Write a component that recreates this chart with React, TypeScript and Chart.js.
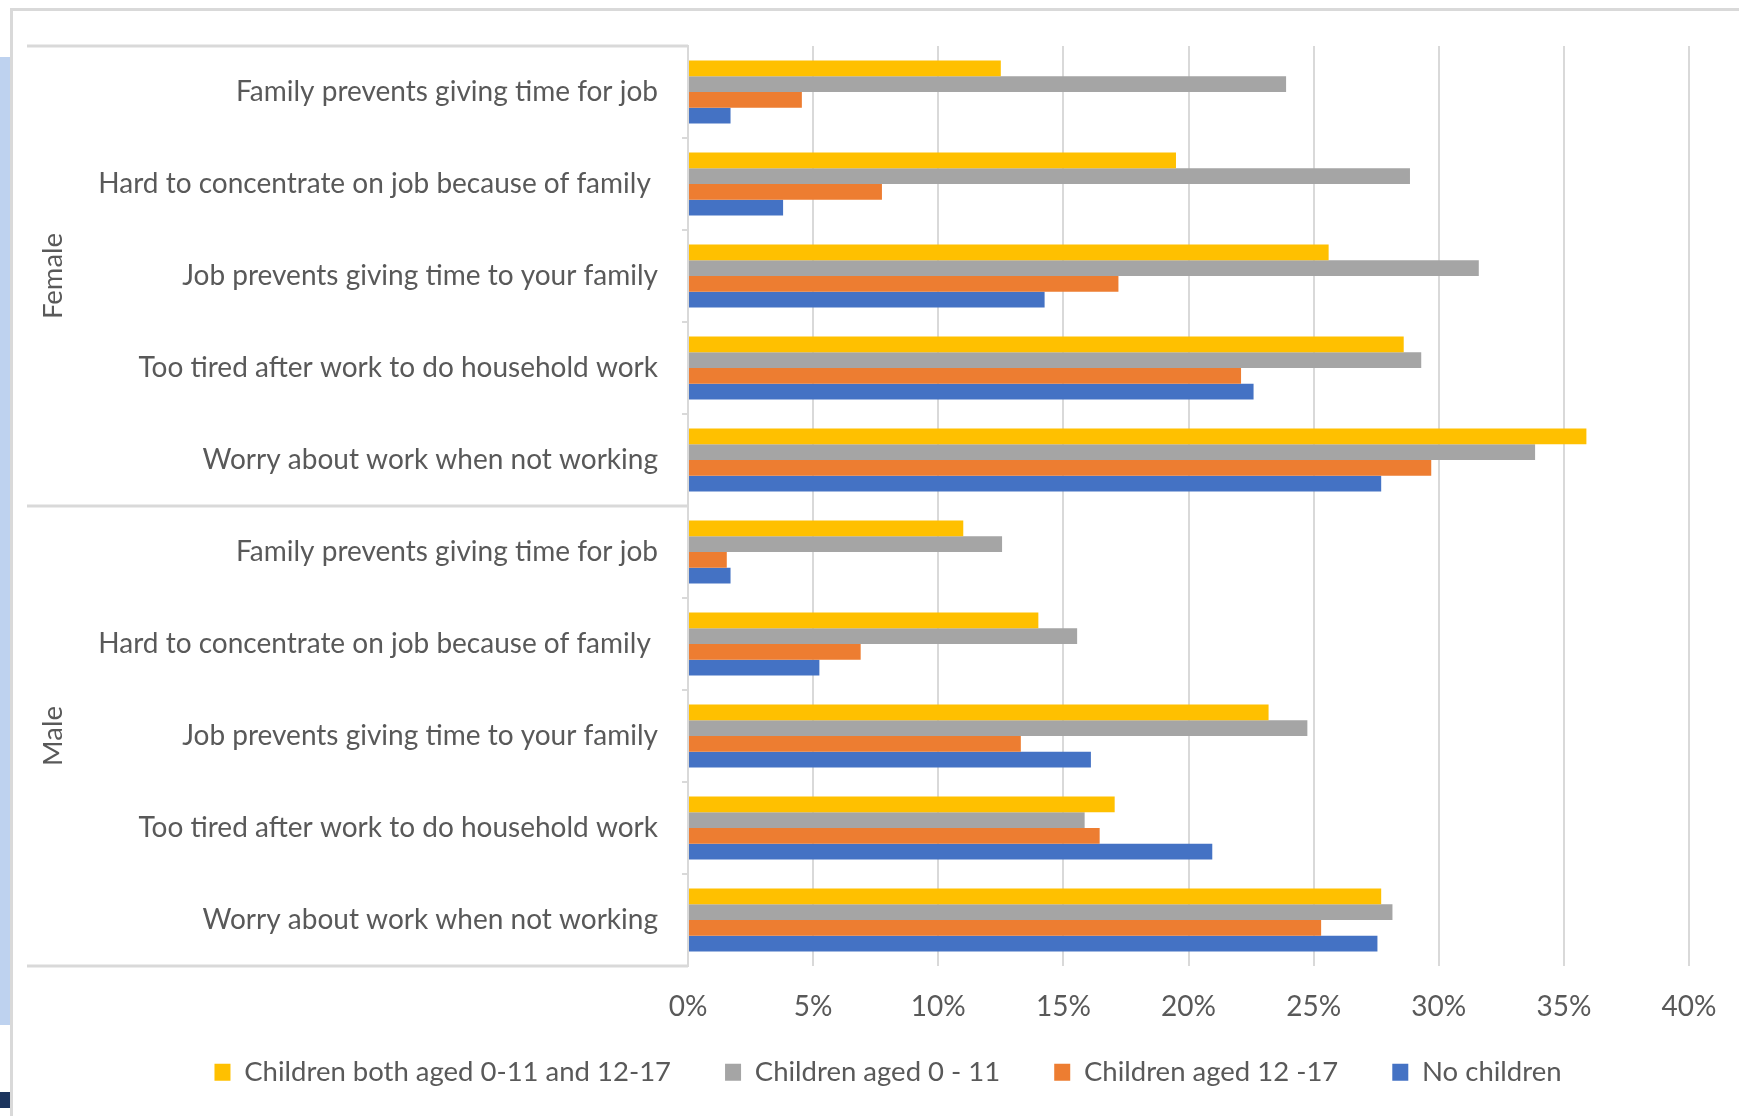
import { useEffect, useRef } from 'react';
import { Chart, registerables } from 'chart.js';

Chart.register(...registerables);

const groups = ['Female', 'Male'];
const questions = [
  'Family prevents giving time for job',
  'Hard to concentrate on job because of family ',
  'Job prevents giving time to your family',
  'Too tired after work to do household work',
  'Worry about work when not working',
];
const categories = [...questions, ...questions];
const seriesNames = [
  'Children both aged 0-11 and 12-17',
  'Children aged 0 - 11',
  'Children aged 12 -17',
  'No children',
];
const bothAged = [12.5, 19.5, 25.6, 28.6, 35.9, 11.0, 14.0, 23.2, 17.05, 27.7];
const aged0to11 = [23.9, 28.85, 31.6, 29.3, 33.85, 12.55, 15.55, 24.75, 15.85, 28.15];
const aged12to17 = [4.55, 7.75, 17.2, 22.1, 29.7, 1.55, 6.9, 13.3, 16.45, 25.3];
const noChildren = [1.7, 3.8, 14.25, 22.6, 27.7, 1.7, 5.25, 16.1, 20.95, 27.55];
const seriesColors = ['#FFC000', '#A5A5A5', '#ED7D31', '#4472C4'];
const xMin = 0;
const xMax = 40;
const xStep = 5;

const W = 1739;
const H = 1116;
const GRID = '#d9d9d9';
const TEXT = '#595959';
const FONT = 'Lato';

const decorPlugin = {
  id: 'decor',
  afterLayout(chart: any) {
    const lg = chart.legend;
    if (lg) {
      lg.top -= 20;
      lg.bottom -= 20;
    }
  },
  beforeDraw(chart: any) {
    const ctx = chart.ctx;
    ctx.save();
    ctx.fillStyle = '#ffffff';
    ctx.fillRect(0, 0, W, H);
    ctx.fillStyle = '#bed2ef';
    ctx.fillRect(0, 57, 10, 968);
    ctx.fillStyle = '#1c355e';
    ctx.fillRect(0, 1092, 10, 16);
    ctx.strokeStyle = GRID;
    ctx.lineWidth = 3;
    ctx.beginPath();
    ctx.moveTo(10, 9.5);
    ctx.lineTo(W, 9.5);
    ctx.moveTo(11.5, 8);
    ctx.lineTo(11.5, H);
    ctx.stroke();
    ctx.restore();
  },
  afterDraw(chart: any) {
    const ctx = chart.ctx;
    const y = chart.scales.y;
    const area = chart.chartArea;
    const perGroup = questions.length;
    const half = (y.getPixelForValue(1) - y.getPixelForValue(0)) / 2;
    ctx.save();
    ctx.strokeStyle = GRID;
    ctx.lineWidth = 3;
    const bounds: number[] = [];
    for (let g = 0; g <= groups.length; g++) {
      const idx = g * perGroup;
      const py = g < groups.length ? y.getPixelForValue(idx) - half : y.getPixelForValue(idx - 1) + half;
      bounds.push(py);
      ctx.beginPath();
      ctx.moveTo(27, py);
      ctx.lineTo(area.left, py);
      ctx.stroke();
    }
    ctx.fillStyle = TEXT;
    ctx.font = '27.5px Lato';
    ctx.textAlign = 'center';
    ctx.textBaseline = 'alphabetic';
    groups.forEach((name, g) => {
      const cy = (bounds[g] + bounds[g + 1]) / 2;
      ctx.save();
      ctx.translate(62, cy);
      ctx.rotate(-Math.PI / 2);
      ctx.fillText(name, 0, 0);
      ctx.restore();
    });
    ctx.restore();
  },
};

export default function App() {
  const ref = useRef<HTMLCanvasElement | null>(null);

  useEffect(() => {
    const canvas = ref.current;
    if (!canvas) return;
    const seriesData = [bothAged, aged0to11, aged12to17, noChildren];
    const chart = new Chart(canvas, {
      type: 'bar',
      data: {
        labels: categories,
        datasets: seriesNames.map((name, i) => ({
          label: name,
          data: seriesData[i],
          backgroundColor: seriesColors[i],
          borderWidth: 0,
          categoryPercentage: 0.685,
          barPercentage: 1,
        })),
      },
      options: {
        indexAxis: 'y',
        responsive: false,
        maintainAspectRatio: false,
        animation: false,
        devicePixelRatio: 1,
        layout: { padding: { left: 87, right: 50, top: 46, bottom: 0 } },
        plugins: {
          legend: {
            position: 'bottom',
            labels: {
              boxWidth: 16,
              boxHeight: 17,
              padding: 54,
              color: TEXT,
              font: { family: FONT, size: 27.5 },
            },
          },
          tooltip: { enabled: false },
        },
        scales: {
          x: {
            min: xMin,
            max: xMax,
            ticks: {
              stepSize: xStep,
              callback: (v: any) => v + '%',
              color: TEXT,
              font: { family: FONT, size: 28, lineHeight: 1 },
              padding: 27,
              maxRotation: 0,
            },
            grid: { color: GRID, lineWidth: 2, drawTicks: false },
            border: { display: false },
            afterFit: (s: any) => {
              s.height = 58.5;
              s.paddingLeft = 0;
              s.paddingRight = 0;
            },
          },
          y: {
            grid: { drawOnChartArea: false, drawTicks: true, tickLength: 6, color: GRID, lineWidth: 2, offset: true },
            border: { display: true, color: GRID, width: 2 },
            ticks: {
              color: TEXT,
              font: { family: FONT, size: 28 },
              padding: 24,
              autoSkip: false,
            },
            afterFit: (s: any) => { s.width = 601; },
          },
        },
      },
      plugins: [decorPlugin],
    } as any);
    return () => chart.destroy();
  }, []);

  return (
    <div style={{ position: 'absolute', left: 0, top: 0, width: W, height: H, background: '#fff' }}>
      <canvas ref={ref} width={W} height={H} style={{ display: 'block', width: W, height: H }} />
    </div>
  );
}
